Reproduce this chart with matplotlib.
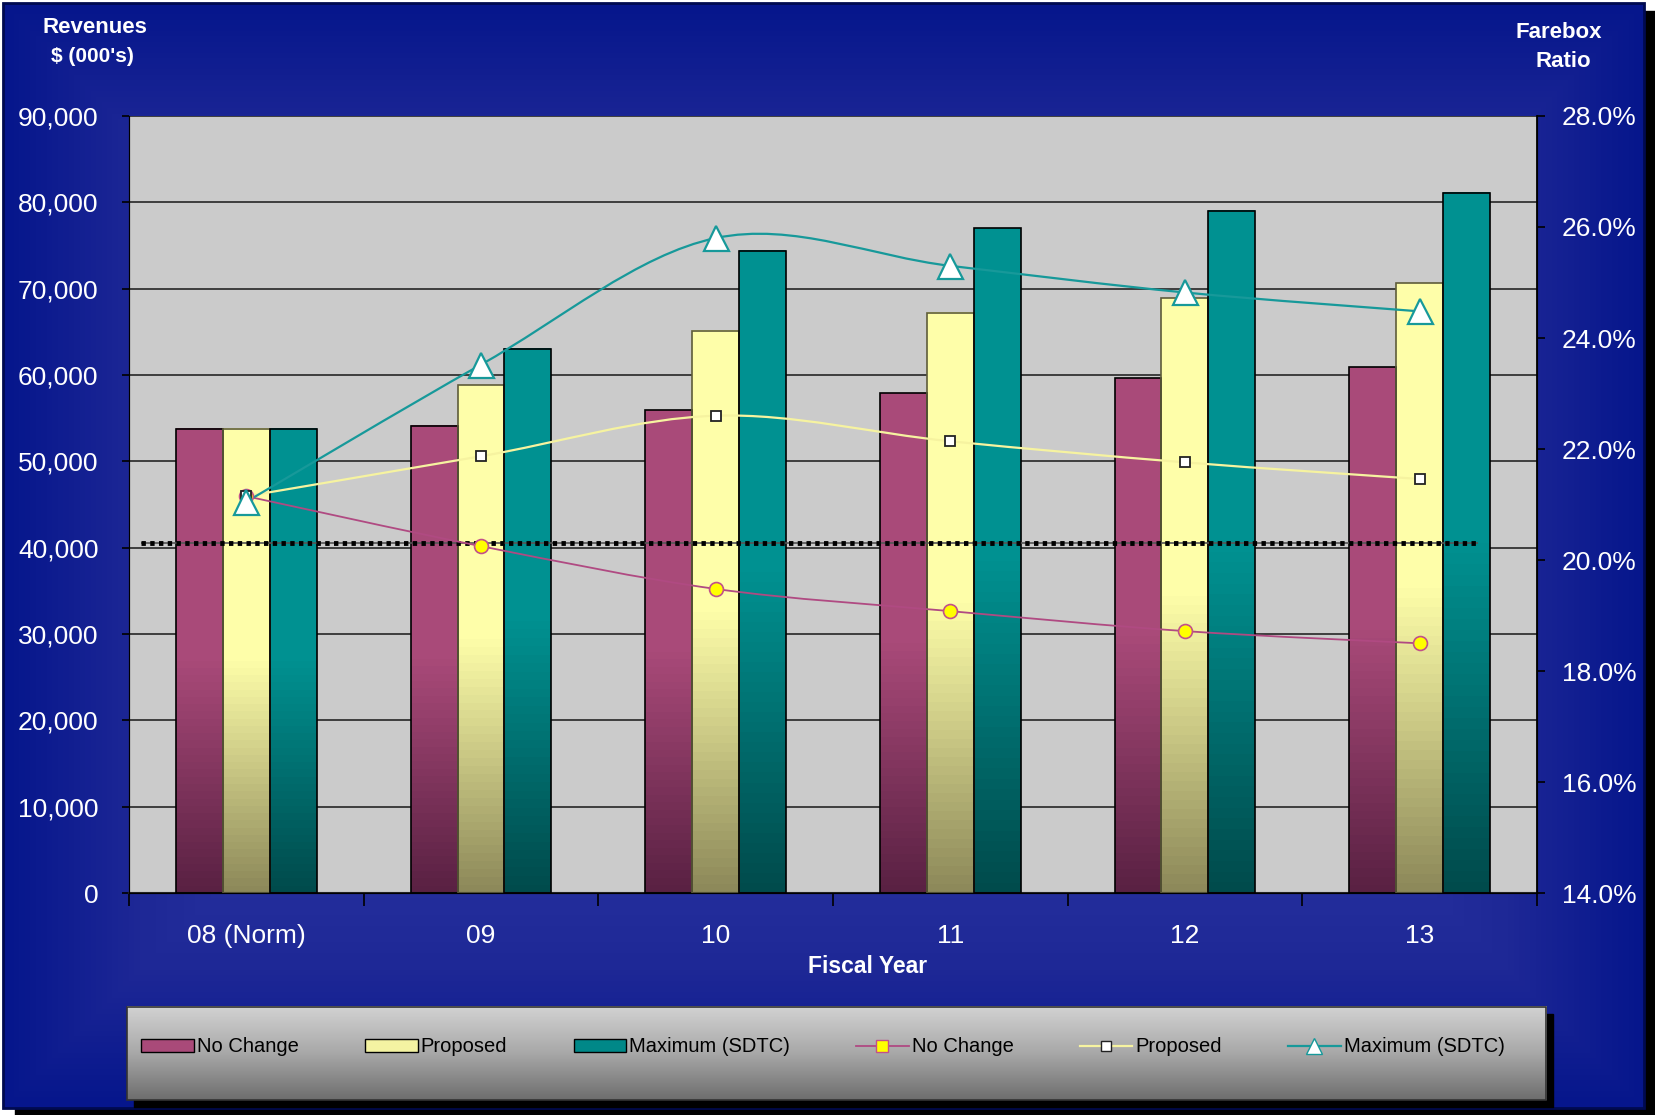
import numpy as np
import matplotlib
matplotlib.use("Agg")
import matplotlib.pyplot as plt
from matplotlib.path import Path
from matplotlib.patches import PathPatch, Rectangle, Patch
from matplotlib.lines import Line2D
from matplotlib.colors import LinearSegmentedColormap
from matplotlib.ticker import FuncFormatter, MultipleLocator

plt.rcParams['font.family'] = ['Liberation Sans', 'DejaVu Sans']

# ---------------- data ----------------
categories = ["08 (Norm)", "09", "10", "11", "12", "13"]
rev_no_change = [53.8, 54.1, 55.9, 57.9, 59.6, 60.9]   # $ thousands (x1000)
rev_proposed = [53.8, 58.8, 65.1, 67.2, 68.9, 70.6]
rev_maximum = [53.8, 63.0, 74.4, 77.0, 79.0, 81.1]
fb_no_change = [21.15, 20.25, 19.48, 19.08, 18.72, 18.50]  # farebox ratio %
fb_proposed = [21.15, 21.87, 22.60, 22.14, 21.76, 21.46]
fb_maximum = [21.05, 23.52, 25.80, 25.30, 24.82, 24.48]
target_ratio = 20.3
series_names = ["No Change", "Proposed", "Maximum (SDTC)"]

rev_no_change = [v * 1000 for v in rev_no_change]
rev_proposed = [v * 1000 for v in rev_proposed]
rev_maximum = [v * 1000 for v in rev_maximum]

# ---------------- figure ----------------
W, H = 16.56, 11.15
fig = plt.figure(figsize=(W, H), dpi=100)
fig.patch.set_facecolor("white")

# background gradient panel
bg = fig.add_axes([0, 0, 1, 1], zorder=-10)
bg.set_xlim(0, 1); bg.set_ylim(0, 1); bg.axis("off")
bg.add_patch(Rectangle((0.009, 0.0), 0.991, 0.99, color="black", zorder=0))
gx = np.linspace(0, 1, 300)
gy = np.linspace(0, 1, 200)
GX, GY = np.meshgrid(gx, gy)
d = np.minimum(np.minimum(GX, 1 - GX) * 6, np.minimum(GY, 1 - GY) * 4)
d = np.clip(d, 0, 1)
bcmap = LinearSegmentedColormap.from_list("b", ["#06168c", "#1e2896", "#2832a0"])
bg.imshow(d, extent=[0.002, 0.993, 0.006, 0.997], origin="lower", cmap=bcmap,
          aspect="auto", zorder=1)
bg.add_patch(Rectangle((0.002, 0.006), 0.991, 0.991, fill=False,
                       edgecolor="#000a50", lw=2, zorder=2))

# legend box
lx0, ly0, lx1, ly1 = 0.0767, 0.0135, 0.9336, 0.097
bg.add_patch(Rectangle((lx0 + 0.004, ly0 - 0.006), lx1 - lx0, ly1 - ly0,
                       color="black", zorder=3))
lg = np.linspace(0, 1, 100).reshape(-1, 1)
gcm = LinearSegmentedColormap.from_list("g", ["#6e6e6e", "#a8a8a8", "#d2d2d2"])
bg.imshow(lg, extent=[lx0, lx1, ly0, ly1], origin="lower", cmap=gcm,
          aspect="auto", zorder=4)
bg.add_patch(Rectangle((lx0, ly0), lx1 - lx0, ly1 - ly0, fill=False,
                       edgecolor="#333333", lw=1.2, zorder=5))

# ---------------- main axes ----------------
ax = fig.add_axes([0.0779, 0.199, 0.8502, 0.697])
ax.set_facecolor("#cbcbcb")
ax2 = ax.twinx()

x = np.arange(len(categories))
bw = 0.2
bar_specs = [
    (rev_no_change, -bw, "#a94a79", "#5a2143", "black"),
    (rev_proposed, 0.0, "#fefea9", "#8d895a", "#5e5c3a"),
    (rev_maximum, bw, "#009191", "#004b4c", "black"),
]
for vals, off, ctop, cbot, ec in bar_specs:
    cm = LinearSegmentedColormap.from_list("c", [cbot, ctop, ctop])
    bars = ax.bar(x + off, vals, width=bw, facecolor="none", edgecolor=ec,
                  lw=1.2, zorder=3)
    for b in bars:
        x0, w, h = b.get_x(), b.get_width(), b.get_height()
        ax.imshow(np.linspace(0, 1, 64).reshape(-1, 1), extent=[x0, x0 + w, 0, h],
                  origin="lower", cmap=cm, aspect="auto", zorder=2.5)

ax.set_xlim(-0.5, len(categories) - 0.5)
ax.set_ylim(0, 90000)
ax.yaxis.set_major_locator(MultipleLocator(10000))
ax.yaxis.set_major_formatter(FuncFormatter(lambda v, p: f"{v:,.0f}"))
ax.grid(axis="y", color="#333333", lw=1.3, zorder=1)
ax.set_axisbelow(True)

ax.set_xticks(np.arange(len(categories) + 1) - 0.5)
ax.set_xticklabels([])
ax.set_xticks(x, minor=True)
ax.set_xticklabels(categories, minor=True)
ax.tick_params(axis="x", which="major", length=9, width=1.2, color="black",
               direction="out")
ax.tick_params(axis="x", which="minor", length=0, pad=22, labelsize=19,
               labelcolor="white")
ax.tick_params(axis="y", length=5, width=1.2, color="black", pad=17,
               labelsize=19, labelcolor="white")
ax.spines["top"].set_visible(False)
ax.spines["left"].set_color("#222222")
ax.spines["bottom"].set_color("#222222")
ax.spines["bottom"].set_linewidth(1.5)

# ---------------- right axis: farebox ratio ----------------
ax2.set_ylim(14, 28)
ax2.yaxis.set_major_locator(MultipleLocator(2))
ax2.yaxis.set_major_formatter(FuncFormatter(lambda v, p: f"{v:.1f}%"))
ax2.tick_params(axis="y", length=6, width=1.2, color="black", pad=12,
                labelsize=19, labelcolor="white")
ax2.spines["top"].set_visible(False)
ax2.spines["right"].set_color("black")
ax2.spines["right"].set_linewidth(1.3)

ax2.hlines(target_ratio, -0.45, 5.25, colors="#555555", lw=1.2, zorder=2.9)
ax2.hlines(target_ratio, -0.45, 5.25, colors="black", lw=3.5,
           linestyles=(0, (0.9, 0.9)), zorder=3)


def smooth_path(xs, ys):
    xs = np.asarray(xs, float); ys = np.asarray(ys, float)
    verts = [(xs[0], ys[0])]
    codes = [Path.MOVETO]
    n = len(xs)
    for i in range(n - 1):
        p0 = np.array([xs[max(i - 1, 0)], ys[max(i - 1, 0)]])
        p1 = np.array([xs[i], ys[i]])
        p2 = np.array([xs[i + 1], ys[i + 1]])
        p3 = np.array([xs[min(i + 2, n - 1)], ys[min(i + 2, n - 1)]])
        c1 = p1 + (p2 - p0) / 6.0
        c2 = p2 - (p3 - p1) / 6.0
        verts += [tuple(c1), tuple(c2), tuple(p2)]
        codes += [Path.CURVE4] * 3
    return Path(verts, codes)


line_specs = [
    (fb_no_change, "#b04a82", 1.3, dict(marker="o", ms=10, mfc="#ffff00",
                                          mec="#c2508a", mew=1.2)),
    (fb_proposed, "#f6f3a0", 1.6, dict(marker="s", ms=7, mfc="white",
                                         mec="#222222", mew=1.3)),
    (fb_maximum, "#17999a", 1.6, dict(marker="^", ms=18, mfc="white",
                                        mec="#17999a", mew=1.6)),
]
for vals, col, lw, mk in line_specs:
    ax2.add_patch(PathPatch(smooth_path(x, vals), facecolor="none",
                            edgecolor=col, lw=lw, zorder=4))
    ax2.plot(x, vals, ls="none", zorder=5, **mk)

# ---------------- titles ----------------
fig.text(0.0574, 0.975, "Revenues", color="white", fontsize=16,
         fontweight="bold", ha="center", va="center")
fig.text(0.0556, 0.949, "$ (000's)", color="white", fontsize=15,
         fontweight="bold", ha="center", va="center")
fig.text(0.9414, 0.971, "Farebox", color="white", fontsize=16,
         fontweight="bold", ha="center", va="center")
fig.text(0.9438, 0.945, "Ratio", color="white", fontsize=16,
         fontweight="bold", ha="center", va="center")
fig.text(0.5236, 0.133, "Fiscal Year", color="white", fontsize=16.5,
         fontweight="bold", ha="center", va="center")

# ---------------- legend ----------------
handles = [
    Patch(facecolor="#a94a79", edgecolor="black"),
    Patch(facecolor="#f4f3a2", edgecolor="black"),
    Patch(facecolor="#008888", edgecolor="black"),
    Line2D([], [], color="#b04a82", lw=1.3, marker="s", ms=8, mfc="#ffff00",
           mec="#c2508a"),
    Line2D([], [], color="#f6f3a0", lw=1.6, marker="s", ms=7, mfc="white",
           mec="#222222"),
    Line2D([], [], color="#17999a", lw=1.6, marker="^", ms=12, mfc="white",
           mec="#17999a"),
]
labels = series_names + series_names
leg = fig.legend(handles, labels, loc="center", bbox_to_anchor=(0.497, 0.061),
                 ncol=6, frameon=False, fontsize=14.5, handlelength=2.6,
                 handleheight=0.6, handletextpad=0.15, columnspacing=3.3)
for t in leg.get_texts():
    t.set_color("black")

fig.savefig("out.png", dpi=100)
